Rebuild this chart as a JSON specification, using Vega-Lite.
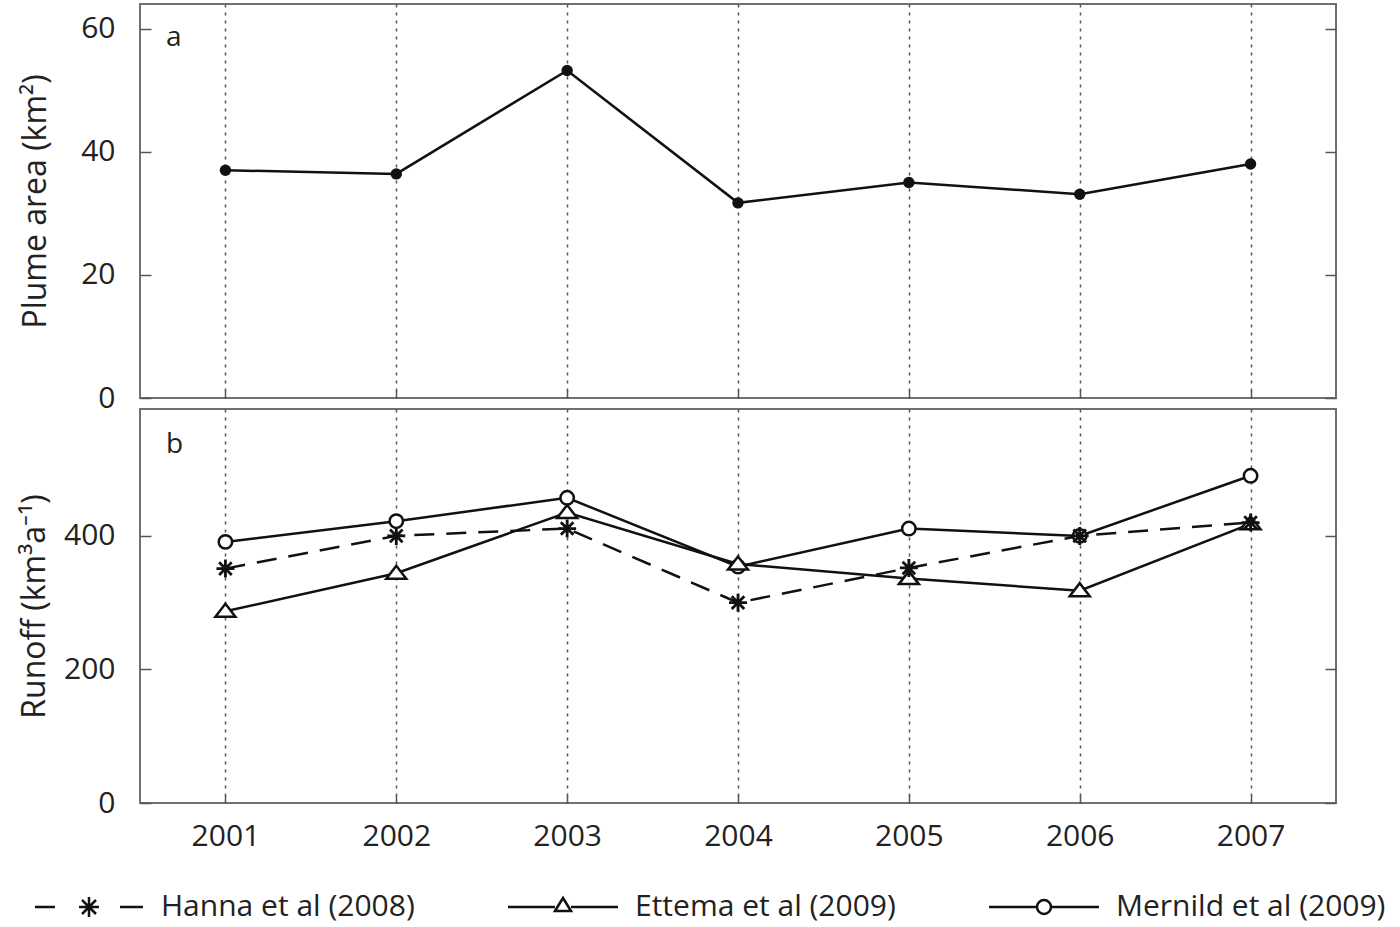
{
  "$schema": "https://vega.github.io/schema/vega-lite/v6.json",
  "padding": {"left": 17, "top": 3, "right": 5, "bottom": 5},
  "spacing": 11,
  "bounds": "flush",
  "datasets": {
    "plume": [
      {"year": 2001, "area": 37.0},
      {"year": 2002, "area": 36.4},
      {"year": 2003, "area": 53.2},
      {"year": 2004, "area": 31.7},
      {"year": 2005, "area": 35.0},
      {"year": 2006, "area": 33.1},
      {"year": 2007, "area": 38.0}
    ],
    "runoff": [
      {"year": 2001, "series": "Hanna et al (2008)", "value": 351},
      {"year": 2002, "series": "Hanna et al (2008)", "value": 400},
      {"year": 2003, "series": "Hanna et al (2008)", "value": 411},
      {"year": 2004, "series": "Hanna et al (2008)", "value": 300},
      {"year": 2005, "series": "Hanna et al (2008)", "value": 352},
      {"year": 2006, "series": "Hanna et al (2008)", "value": 400},
      {"year": 2007, "series": "Hanna et al (2008)", "value": 420},
      {"year": 2001, "series": "Ettema et al (2009)", "value": 287},
      {"year": 2002, "series": "Ettema et al (2009)", "value": 344},
      {"year": 2003, "series": "Ettema et al (2009)", "value": 435},
      {"year": 2004, "series": "Ettema et al (2009)", "value": 358},
      {"year": 2005, "series": "Ettema et al (2009)", "value": 336},
      {"year": 2006, "series": "Ettema et al (2009)", "value": 318},
      {"year": 2007, "series": "Ettema et al (2009)", "value": 418},
      {"year": 2001, "series": "Mernild et al (2009)", "value": 391},
      {"year": 2002, "series": "Mernild et al (2009)", "value": 422},
      {"year": 2003, "series": "Mernild et al (2009)", "value": 457},
      {"year": 2004, "series": "Mernild et al (2009)", "value": 354},
      {"year": 2005, "series": "Mernild et al (2009)", "value": 411},
      {"year": 2006, "series": "Mernild et al (2009)", "value": 400},
      {"year": 2007, "series": "Mernild et al (2009)", "value": 490}
    ]
  },
  "vconcat": [
    {
      "width": 1196,
      "height": 394,
      "data": {"name": "plume"},
      "layer": [
        {
          "mark": {"type": "line", "color": "#111", "strokeWidth": 2.5},
          "encoding": {
            "x": {"field": "year", "type": "quantitative", "scale": {"domain": [2000.5, 2007.5], "nice": false, "zero": false},
                  "axis": {"values": [2001, 2002, 2003, 2004, 2005, 2006, 2007], "labels": false, "title": null, "grid": true}},
            "y": {"field": "area", "type": "quantitative", "scale": {"domain": [0, 64], "nice": false},
                  "axis": {"values": [0, 20, 40, 60], "title": "Plume area (km²)", "titlePadding": 28}}
          }
        },
        {
          "mark": {"type": "point", "shape": "circle", "filled": true, "color": "#111", "size": 130, "opacity": 1},
          "encoding": {
            "x": {"field": "year", "type": "quantitative"},
            "y": {"field": "area", "type": "quantitative", "axis": null}
          }
        },
        {
          "data": {"values": [{"label": "a"}]},
          "mark": {"type": "text", "align": "left", "baseline": "alphabetic", "dx": 26, "dy": 42, "fontSize": 28, "font": "Open Sans", "color": "#222"},
          "encoding": {
            "x": {"datum": 2000.5, "type": "quantitative"},
            "y": {"datum": 64, "type": "quantitative", "axis": null},
            "text": {"field": "label"}
          }
        },
        {
          "transform": [{"filter": "datum.area < 0"}],
          "mark": {"type": "point", "opacity": 0},
          "encoding": {
            "x": {"field": "year", "type": "quantitative"},
            "y": {"field": "area", "type": "quantitative",
                  "axis": {"orient": "right", "labels": false, "title": null, "values": [0, 20, 40, 60]}}
          }
        }
      ],
      "resolve": {"axis": {"y": "independent"}}
    },
    {
      "width": 1196,
      "height": 394,
      "data": {"name": "runoff"},
      "layer": [
        {
          "transform": [{"filter": "datum.series !== 'Hanna et al (2008)'"}],
          "mark": {"type": "line", "color": "#111", "strokeWidth": 2.5},
          "encoding": {
            "x": {"field": "year", "type": "quantitative", "scale": {"domain": [2000.5, 2007.5], "nice": false, "zero": false},
                  "axis": {"values": [2001, 2002, 2003, 2004, 2005, 2006, 2007], "format": "d", "title": null, "grid": true}},
            "y": {"field": "value", "type": "quantitative", "scale": {"domain": [0, 590], "nice": false},
                  "axis": {"values": [0, 200, 400], "title": "Runoff (km³a⁻¹)", "titlePadding": 12}},
            "detail": {"field": "series"}
          }
        },
        {
          "transform": [{"filter": "datum.series === 'Hanna et al (2008)'"}],
          "mark": {"type": "line", "color": "#111", "strokeWidth": 2.5, "strokeDash": [20, 12]},
          "encoding": {
            "x": {"field": "year", "type": "quantitative"},
            "y": {"field": "value", "type": "quantitative", "axis": null}
          }
        },
        {
          "transform": [{"filter": "datum.series === 'Mernild et al (2009)'"}],
          "mark": {"type": "point", "shape": "circle", "filled": true, "fill": "white", "stroke": "#111", "strokeWidth": 2.5, "size": 180, "opacity": 1},
          "encoding": {
            "x": {"field": "year", "type": "quantitative"},
            "y": {"field": "value", "type": "quantitative", "axis": null}
          }
        },
        {
          "transform": [{"filter": "datum.series === 'Ettema et al (2009)'"}],
          "mark": {"type": "point", "shape": "M-1,0.55L0,-0.75L1,0.55Z", "filled": true, "fill": "white", "stroke": "#111", "strokeWidth": 2.5, "size": 400, "opacity": 1},
          "encoding": {
            "x": {"field": "year", "type": "quantitative"},
            "y": {"field": "value", "type": "quantitative", "axis": null}
          }
        },
        {
          "transform": [{"filter": "datum.series === 'Hanna et al (2008)'"}],
          "mark": {"type": "point", "shape": "M0,-1V1M-1,0H1M-0.7,-0.7L0.7,0.7M-0.7,0.7L0.7,-0.7", "filled": false, "stroke": "#111", "strokeWidth": 2.8, "size": 324, "opacity": 1},
          "encoding": {
            "x": {"field": "year", "type": "quantitative"},
            "y": {"field": "value", "type": "quantitative", "axis": null}
          }
        },
        {
          "data": {"values": [{"label": "b"}]},
          "mark": {"type": "text", "align": "left", "baseline": "alphabetic", "dx": 26, "dy": 44, "fontSize": 28, "font": "Open Sans", "color": "#222"},
          "encoding": {
            "x": {"datum": 2000.5, "type": "quantitative"},
            "y": {"datum": 590, "type": "quantitative", "axis": null},
            "text": {"field": "label"}
          }
        },
        {
          "transform": [{"filter": "datum.value < 0"}],
          "mark": {"type": "point", "filled": false, "color": "#111", "strokeWidth": 2.5, "size": 4, "opacity": 1},
          "encoding": {
            "x": {"field": "year", "type": "quantitative"},
            "y": {"field": "value", "type": "quantitative",
                  "axis": {"orient": "right", "labels": false, "title": null, "values": [0, 200, 400]}},
            "shape": {"field": "series", "type": "nominal",
                      "scale": {"domain": ["Hanna et al (2008)", "Ettema et al (2009)", "Mernild et al (2009)"],
                                "range": ["M-54,0H-34M31,0H54M0,-10V10M-10,0H10M-7,-7L7,7M-7,7L7,-7",
                                          "M-55,0H-8M8,0H55M-8,4L0,-9L8,4Z",
                                          "M-55,0H-7M7,0H55M-7,0A7,7,0,1,0,7,0A7,7,0,1,0,-7,0Z"]},
                      "legend": {"orient": "none", "legendX": -108, "legendY": 888, "direction": "horizontal", "title": null,
                                 "symbolSize": 4, "symbolStrokeWidth": 2.5, "symbolOffset": 42, "labelOffset": 57,
                                 "columnPadding": 88, "labelFontSize": 30, "labelLimit": 0, "labelFont": "Open Sans",
                                 "labelColor": "#222", "symbolStrokeColor": "#111", "symbolFillColor": "transparent", "symbolOpacity": 1}}
          }
        }
      ],
      "resolve": {"axis": {"y": "independent"}}
    }
  ],
  "config": {
    "view": {"stroke": "#707070", "strokeWidth": 2},
    "font": "Open Sans",
    "axis": {
      "labelFont": "Open Sans", "labelFontSize": 30, "labelColor": "#222",
      "titleFont": "Open Sans", "titleFontSize": 32, "titleFontWeight": "normal", "titleColor": "#222",
      "tickColor": "#555", "tickWidth": 1.5, "domain": false,
      "gridColor": "#555", "gridDash": [3, 5], "gridWidth": 1.5
    },
    "axisY": {"tickSize": -11, "labelPadding": 36, "grid": false},
    "axisX": {"tickSize": -8, "labelPadding": 26}
  }
}
